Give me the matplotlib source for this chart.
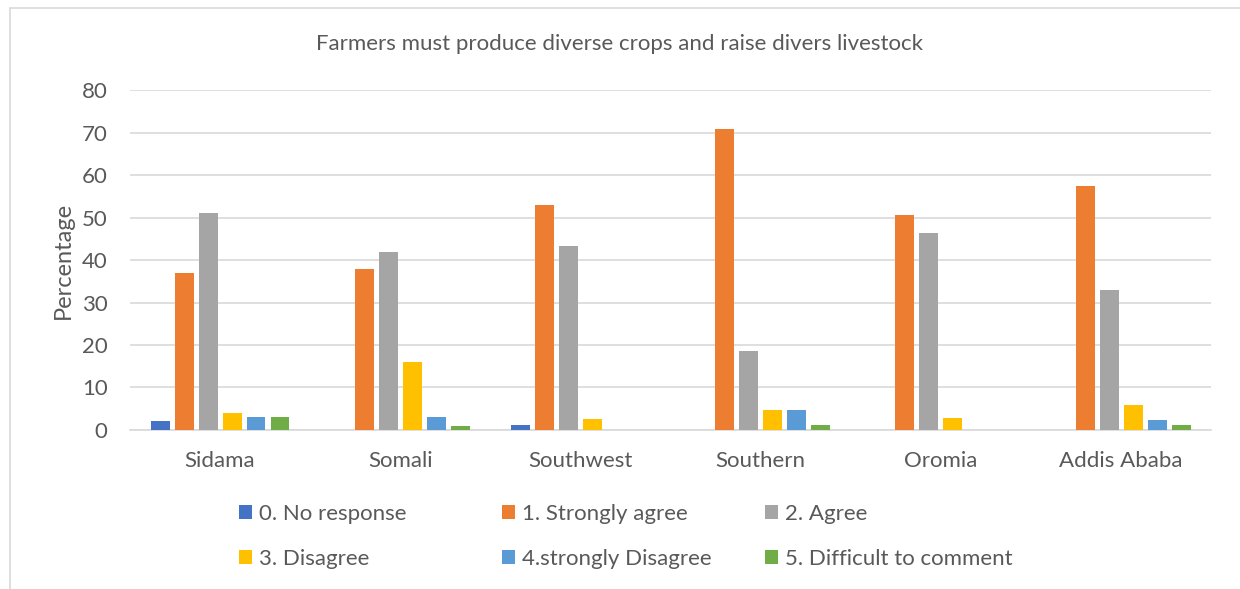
import numpy as np
import matplotlib.pyplot as plt
from matplotlib.patches import Rectangle

plt.rcParams['font.family'] = ['Lato', 'DejaVu Sans']

regions = ["Sidama", "Somali", "Southwest", "Southern", "Oromia", "Addis Ababa"]
responses = ["0. No response", "1. Strongly agree", "2. Agree",
             "3. Disagree", "4.strongly Disagree", "5. Difficult to comment"]

no_response = [2.0, 0, 1.2, 0, 0, 0]
strongly_agree = [37.0, 38.0, 53.0, 70.8, 50.5, 57.5]
agree = [51.0, 42.0, 43.2, 18.5, 46.4, 32.9]
disagree = [4.0, 16.0, 2.5, 4.7, 2.8, 5.9]
strongly_disagree = [3.0, 3.0, 0, 4.7, 0, 2.4]
difficult = [3.0, 1.0, 0, 1.2, 0, 1.2]

yticks = [0, 10, 20, 30, 40, 50, 60, 70, 80]

series = [no_response, strongly_agree, agree, disagree, strongly_disagree, difficult]
colors = ["#4472C4", "#ED7D31", "#A5A5A5", "#FFC000", "#5B9BD5", "#70AD47"]
text_color = "#595959"

fig = plt.figure(figsize=(12.4, 5.89), dpi=100)
ax = fig.add_axes([0.1048, 0.270, 0.872, 0.577])

# light chart-area border
fig.patches.append(Rectangle((10 / 1240, -0.1), 1.2, 1 - 8 / 589 + 0.1,
                             transform=fig.transFigure, fill=False,
                             edgecolor="#D9D9D9", linewidth=1.2))

x = np.arange(len(regions))
step = 0.133
width = 0.105
handles = []
for i, (vals, col) in enumerate(zip(series, colors)):
    offs = (i - 2.5) * step
    b = ax.bar(x + offs, vals, width=width, color=col, label=responses[i], zorder=3)
    handles.append(b)

ax.set_xlim(-0.5, len(regions) - 0.5)
ax.set_ylim(0, 80)
ax.set_yticks(yticks)
ax.yaxis.grid(True, color="#D9D9D9", linewidth=1.2, zorder=0)
ax.set_xticks(x)
ax.set_xticklabels(regions)
ax.tick_params(axis='both', length=0, labelsize=16, colors=text_color)
ax.tick_params(axis='x', pad=15)
ax.tick_params(axis='y', pad=16)
for s in ["top", "right", "left"]:
    ax.spines[s].set_visible(False)
ax.spines["bottom"].set_color("#D9D9D9")
ax.spines["bottom"].set_linewidth(1.2)

ax.set_ylabel("Percentage", fontsize=17, color=text_color, labelpad=6)

fig.text(0.5, 1 - 44 / 589, "Farmers must produce diverse crops and raise divers livestock",
         ha="center", va="center", fontsize=16, color=text_color)

# legend laid out as three fixed-width columns, two rows each
col_left = [239, 502, 765]
for c in range(3):
    idx = [c, c + 3]
    fig.legend([handles[k] for k in idx], [responses[k] for k in idx],
               loc="center left", bbox_to_anchor=(col_left[c] / 1240, 1 - 536.5 / 589),
               frameon=False, fontsize=16, labelcolor=text_color,
               borderpad=0, borderaxespad=0,
               handlelength=0.6, handleheight=0.6, handletextpad=0.3,
               labelspacing=1.12)

fig.savefig("out.png", dpi=100)
